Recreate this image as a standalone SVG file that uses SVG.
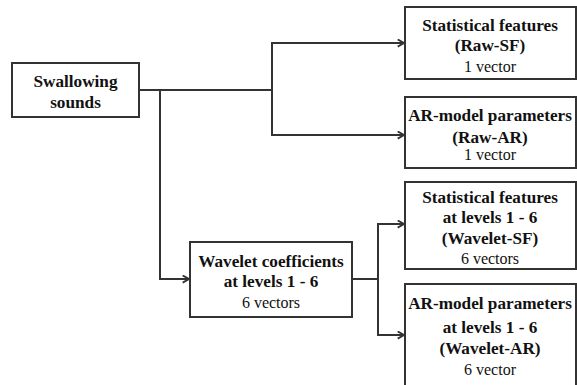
<svg xmlns="http://www.w3.org/2000/svg" width="577" height="385" viewBox="0 0 577 385">
<defs>
<style>
.box{fill:#fff;stroke:#333;stroke-width:2}
.ln{fill:none;stroke:#333;stroke-width:2}
.b{font-family:"Liberation Serif","Times New Roman",serif;font-weight:bold;font-size:17.2px;fill:#111;text-anchor:middle}
.r{font-family:"Liberation Serif","Times New Roman",serif;font-size:16px;fill:#111;text-anchor:middle}
</style>
<marker id="ah" viewBox="0 0 10 10" refX="9" refY="5" markerWidth="9" markerHeight="9" markerUnits="userSpaceOnUse" orient="auto">
<path d="M2,1 L9,5 L2,9" fill="none" stroke="#333" stroke-width="2"/>
</marker>
</defs>
<rect width="577" height="385" fill="#fff"/>
<g id="connectors">
<path class="ln" d="M139,90 H272 V43 H404" marker-end="url(#ah)"/>
<path class="ln" d="M272,90 V135 H404" marker-end="url(#ah)"/>
<path class="ln" d="M160,90 V279 H189" marker-end="url(#ah)"/>
<path class="ln" d="M352,279 H378 V224 H404" marker-end="url(#ah)"/>
<path class="ln" d="M378,279 V335 H404" marker-end="url(#ah)"/>
</g>
<g id="swallowing">
<rect class="box" x="12" y="63" width="127" height="54"/>
<text class="b" x="75.5" y="87">Swallowing</text>
<text class="b" x="75.5" y="108">sounds</text>
</g>
<g id="raw-sf">
<rect class="box" x="405" y="7" width="171" height="72"/>
<text class="b" x="490" y="31">Statistical features</text>
<text class="b" x="490" y="51">(Raw-SF)</text>
<text class="r" x="490" y="72">1 vector</text>
</g>
<g id="raw-ar">
<rect class="box" x="405" y="97" width="171" height="71"/>
<text class="b" x="490" y="121">AR-model parameters</text>
<text class="b" x="490" y="143">(Raw-AR)</text>
<text class="r" x="490" y="160">1 vector</text>
</g>
<g id="wavelet-coef">
<rect class="box" x="190" y="242" width="162" height="75"/>
<text class="b" x="271" y="267">Wavelet coefficients</text>
<text class="b" x="271" y="287">at levels 1 - 6</text>
<text class="r" x="271" y="308">6 vectors</text>
</g>
<g id="wavelet-sf">
<rect class="box" x="405" y="182" width="171" height="87"/>
<text class="b" x="490" y="203">Statistical features</text>
<text class="b" x="490" y="223">at levels 1 - 6</text>
<text class="b" x="490" y="244">(Wavelet-SF)</text>
<text class="r" x="490" y="264">6 vectors</text>
</g>
<g id="wavelet-ar">
<rect class="box" x="405" y="284" width="171" height="110"/>
<text class="b" x="490" y="309">AR-model parameters</text>
<text class="b" x="490" y="333">at levels 1 - 6</text>
<text class="b" x="490" y="354">(Wavelet-AR)</text>
<text class="r" x="490" y="375">6 vector</text>
</g>
</svg>
